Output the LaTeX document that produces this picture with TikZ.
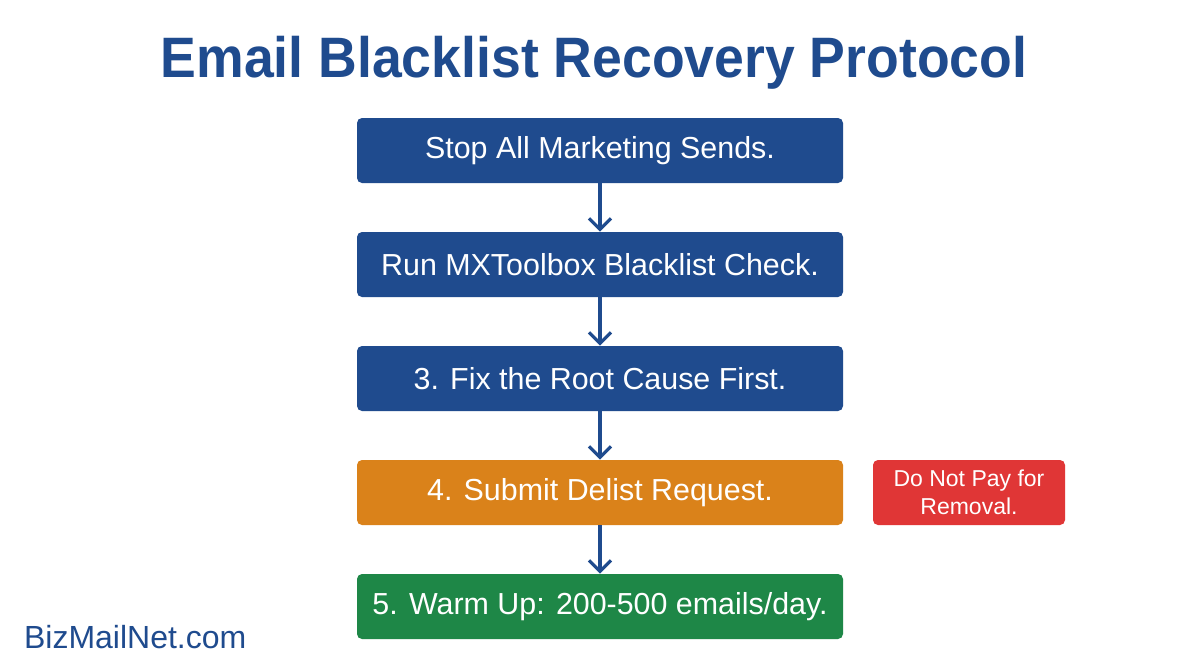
\documentclass[tikz,border=0pt]{standalone}
\usepackage{fontspec}
\usepackage{graphicx}
\setmainfont{Liberation Sans}
\usetikzlibrary{arrows.meta}
\definecolor{navy}{HTML}{1F4B8E}
\definecolor{orangebox}{HTML}{DA821A}
\definecolor{greenbox}{HTML}{1E8747}
\definecolor{redbox}{HTML}{E03636}
\tikzset{
  stepbox/.style={rounded corners=2.5pt, minimum width=243pt, minimum height=32.5pt, inner sep=0pt, text=white, font=\fontsize{15.2}{18}\selectfont},
  flow/.style={navy, line width=1.6pt, -{Straight Barb[length=5.5pt,width=11pt,line width=1.6pt]}},
}
\begin{document}
\begin{tikzpicture}[x=0.5pt,y=-0.5pt]
\useasboundingbox (0,0) rectangle (1200,670);
\fill[white] (0,0) rectangle (1200,670);
\node[text=navy, font=\bfseries\fontsize{28.5}{32}\selectfont] (title) at (594,63) {\scalebox{0.94}[1]{Email Blacklist Recovery Protocol}};
\node[stepbox, fill=navy] (s1) at (600,150.5) {\raisebox{-1pt}{Stop All Marketing Sends.}};
\node[stepbox, fill=navy] (s2) at (600,264.5) {\raisebox{-1pt}{Run MXToolbox Blacklist Check.}};
\node[stepbox, fill=navy] (s3) at (600,378.5) {\raisebox{-1pt}{3. Fix the Root Cause First.}};
\node[stepbox, fill=orangebox] (s4) at (600,492.5) {\raisebox{-1pt}{4. Submit Delist Request.}};
\node[stepbox, fill=greenbox] (s5) at (600,606.5) {\raisebox{-1pt}{5. Warm Up: 200-500 emails/day.}};
\node[rounded corners=2.5pt, fill=redbox, minimum width=96pt, minimum height=32.5pt, inner sep=0pt, text=white, align=center, font=\fontsize{11.5}{14}\selectfont] (warn) at (969,492.5) {Do Not Pay for\\Removal.};
\node[text=navy, font=\fontsize{16}{19}\selectfont, anchor=west] (brand) at (17,637) {BizMailNet.com};
\draw[flow] (s1) -- (s2);
\draw[flow] (s2) -- (s3);
\draw[flow] (s3) -- (s4);
\draw[flow] (s4) -- (s5);
\end{tikzpicture}
\end{document}
